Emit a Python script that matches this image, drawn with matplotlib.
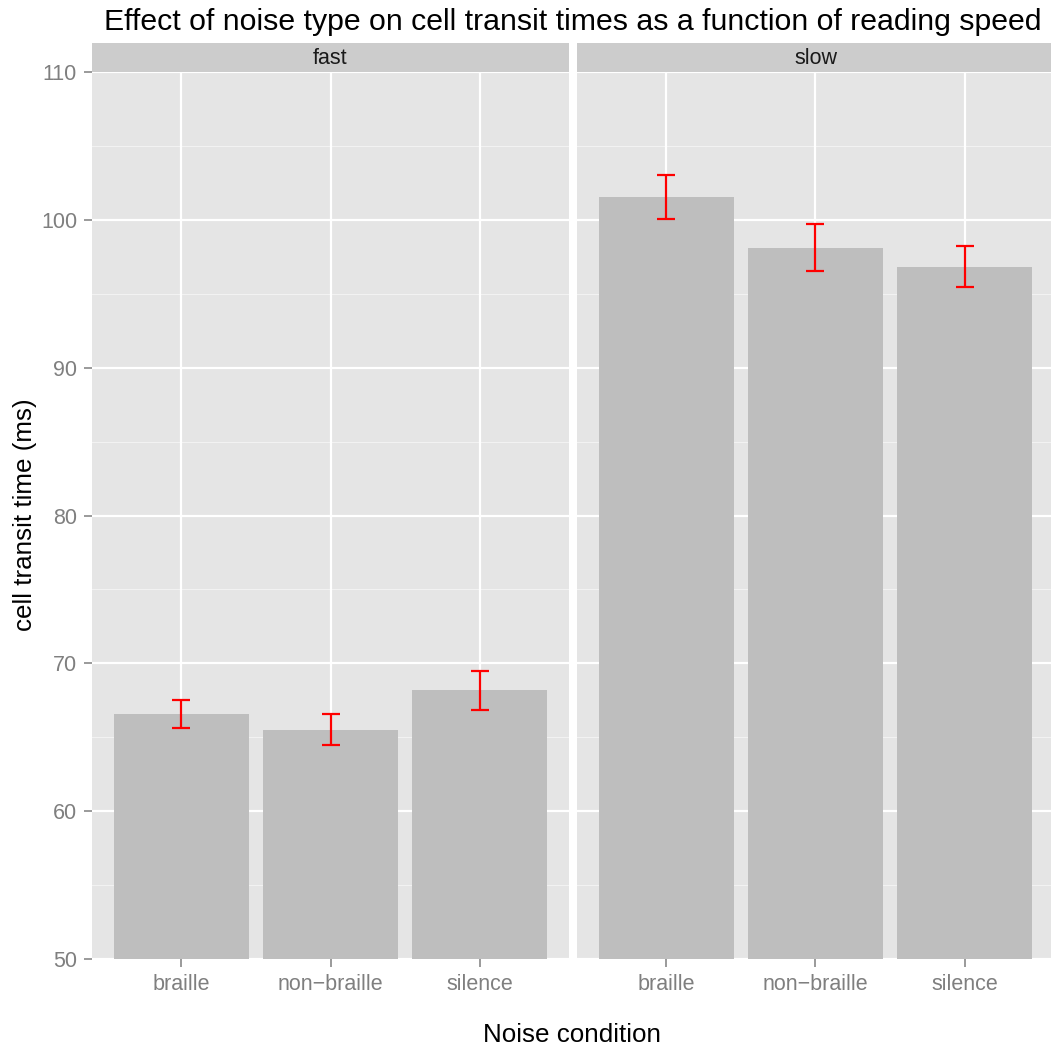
import matplotlib
matplotlib.use("Agg")
import matplotlib.pyplot as plt
import numpy as np

plt.rcParams['font.family'] = ['Liberation Sans', 'DejaVu Sans']

# data
conditions = ['braille', 'non\u2212braille', 'silence']
speeds = ['fast', 'slow']
mean_fast = [66.55, 65.5, 68.2]
mean_slow = [101.55, 98.1, 96.8]
lower_fast = [65.6, 64.45, 66.85]
upper_fast = [67.5, 66.55, 69.45]
lower_slow = [100.05, 96.55, 95.45]
upper_slow = [103.0, 99.7, 98.2]

means = {'fast': mean_fast, 'slow': mean_slow}
lows = {'fast': lower_fast, 'slow': lower_slow}
highs = {'fast': upper_fast, 'slow': upper_slow}

W, H = 1051, 1048
fig = plt.figure(figsize=(W / 100, H / 100), dpi=100)

BG = '#E5E5E5'
BAR = '#BEBEBE'
STRIP = '#CCCCCC'
GREY50 = '#7F7F7F'

panel_left = [92, 577]
panel_w = 477
panel_bottom = 959
panel_top = 72
strip_h = 29

x = np.arange(1, len(conditions) + 1)
axes = []
for i, sp in enumerate(speeds):
    ax = fig.add_axes([panel_left[i] / W, (H - panel_bottom) / H,
                       panel_w / W, (panel_bottom - panel_top) / H])
    ax.set_facecolor(BG)
    for s in ax.spines.values():
        s.set_visible(False)
    ax.set_xlim(0.4, 3.6)
    ax.set_ylim(50, 110)
    # grid
    for v in np.arange(55, 110, 10):
        ax.axhline(v, color='#F2F2F2', lw=0.8, zorder=0.5)
    for v in np.arange(50, 111, 10):
        ax.axhline(v, color='white', lw=1.6, zorder=0.6)
    for xv in x:
        ax.axvline(xv, color='white', lw=1.6, zorder=0.6)
    ax.bar(x, means[sp], width=0.9, color=BAR, zorder=2)
    err = [np.array(means[sp]) - np.array(lows[sp]),
           np.array(highs[sp]) - np.array(means[sp])]
    ax.errorbar(x, means[sp], yerr=err, fmt='none', ecolor='red',
                elinewidth=1.6, capsize=6.5, capthick=1.6, zorder=3)
    ax.set_xticks(x)
    ax.set_xticklabels(conditions)
    ax.set_yticks(np.arange(50, 111, 10))
    ax.tick_params(axis='both', colors=GREY50, length=5.8, width=1.1, labelcolor=GREY50,
                   labelsize=15.5, pad=5)
    if i > 0:
        ax.tick_params(axis='y', left=False, labelleft=False)
    # strip
    sax = fig.add_axes([panel_left[i] / W, (H - panel_top) / H,
                        panel_w / W, strip_h / H])
    sax.set_facecolor(STRIP)
    sax.set_xticks([])
    sax.set_yticks([])
    for s in sax.spines.values():
        s.set_visible(False)
    sax.text(0.5, 0.45, sp, ha='center', va='center', fontsize=15.5, color='#1A1A1A',
             transform=sax.transAxes)
    axes.append(ax)

fig.text(573 / W, 1 - 22 / H, 'Effect of noise type on cell transit times as a function of reading speed',
         ha='center', va='center', fontsize=21.8, color='black')
fig.text(572 / W, 1 - 1035 / H, 'Noise condition', ha='center', va='center',
         fontsize=18.7, color='black')
fig.text(25 / W, 1 - 515 / H, 'cell transit time (ms)', ha='center', va='center',
         rotation=90, fontsize=18.7, color='black')

fig.savefig('out.png', dpi=100, facecolor='white')
